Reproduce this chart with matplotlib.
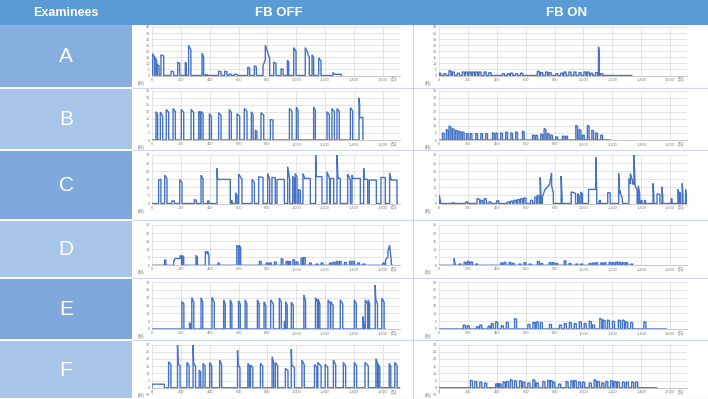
import matplotlib
matplotlib.use('Agg')
import matplotlib.pyplot as plt
from matplotlib.patches import Rectangle

plt.rcParams['font.family'] = ['Liberation Sans', 'DejaVu Sans']

# pulses: (start s, end s, height at start, height at end) - force in N
A_off = [(5, 18, 18, 15), (20, 33, 15, 12), (36, 49, 9, 8), (62, 81, 17, 16), (132, 150, 3.6, 3),
         (178, 192, 11, 10), (231, 238, 11, 10), (254, 270, 25, 21), (347, 358, 18.5, 15), (370, 381, 0.6, 0.5),
         (462, 479, 3.6, 3), (504, 520, 3.6, 3), (534, 550, 1, 1), (571, 590, 1, 1), (664, 677, 7, 6),
         (710, 724, 8, 7), (770, 786, 8, 13), (786, 800, 25, 20), (800, 816, 20, 14), (844, 860, 11, 10),
         (895, 909, 5.5, 5), (939, 948, 12.4, 11), (983, 999, 23, 20), (1063, 1080, 23, 19), (1080, 1091, 18, 15),
         (1110, 1121, 17, 15), (1156, 1172, 14.6, 12), (1255, 1267, 2.5, 1), (1267, 1313, 1, 1)]
A_on = [(0, 10, 2), (32, 46, 1.5), (67, 81, 4), (90, 104, 3), (125, 139, 2), (159, 173, 3), (183, 197, 3),
        (206, 220, 3), (229, 243, 3), (252, 266, 3), (275, 289, 3), (310, 324, 3), (344, 358, 2.5), (437, 451, 1.5),
        (472, 486, 1.5), (495, 509, 2), (529, 543, 1.5), (564, 578, 2), (680, 694, 3.5), (703, 717, 2.5),
        (737, 751, 3), (761, 775, 2.5), (807, 821, 1.5), (842, 856, 2), (865, 879, 3), (899, 913, 3), (934, 948, 3),
        (969, 983, 2.5), (1003, 1017, 3), (1026, 1040, 3), (1050, 1064, 2), (1084, 1098, 2.5), (1104, 1110, 23.7, 20),
        (1119, 1133, 1.5)]
B_off = [(28, 39, 20), (58, 74, 19.7, 17), (99, 116, 21.6), (146, 162, 22.3), (203, 220, 21.6), (271, 289, 21.6),
         (324, 335, 20.4), (340, 354, 20.4), (398, 412, 18.6), (462, 479, 19.3), (536, 550, 21.6), (590, 608, 18.6),
         (640, 659, 22.3), (689, 701, 20), (717, 728, 7, 6), (756, 775, 19.3), (821, 839, 14.6, 14), (953, 971, 22.3),
         (1001, 1013, 23.3), (1121, 1133, 23.3), (1214, 1230, 20), (1248, 1265, 22.3), (1283, 1299, 22.3),
         (1376, 1392, 22.8), (1436, 1440, 29.8, 25), (1440, 1463, 15.7, 16)]
B_on = [(22, 34, 5.1), (49, 61, 7.5), (68, 80, 10), (91, 103, 8.2), (114, 126, 7), (137, 149, 6.3), (160, 172, 5.8),
        (188, 200, 4.7), (214, 226, 4.7), (253, 265, 4.7), (288, 300, 4.7), (322, 334, 4.7), (369, 381, 5.1),
        (392, 404, 5.1), (426, 438, 5.1), (461, 473, 5.8), (496, 508, 5.1), (530, 542, 5.8), (577, 589, 6.3),
        (646, 658, 3.5), (669, 681, 3.5), (704, 716, 4.2), (727, 739, 8.2), (750, 762, 4.7), (773, 785, 3.5),
        (808, 820, 2.3), (854, 866, 2.8), (877, 889, 2.8), (947, 959, 10.5), (970, 982, 7.5), (993, 1005, 3.5),
        (1027, 1039, 10.5), (1058, 1070, 7), (1085, 1097, 5.1), (1120, 1132, 3.5)]
C_off = [(46, 62, 14.5, 15), (88, 104, 17.6, 15), (139, 155, 1.7, 1.5), (192, 208, 14.9, 13), (294, 307, 2.5, 2),
         (340, 354, 17.6, 15), (386, 395, 1.7, 1.5), (451, 455, 21.7, 15), (455, 543, 14.9, 14.9), (550, 556, 2, 1.5),
         (580, 590, 6.6, 5), (601, 624, 18.2, 15), (694, 710, 14.9, 13), (740, 770, 16.6, 16), (802, 816, 18.6, 15),
         (832, 855, 16.1, 16), (867, 918, 14.9, 14.9), (941, 955, 22.8, 15), (976, 987, 17, 15), (994, 1006, 18.6, 16),
         (1017, 1029, 8.7, 8), (1047, 1060, 18.6, 15.5), (1060, 1098, 15.5, 15.5), (1135, 1140, 30, 16.6),
         (1140, 1179, 16.6, 16.6), (1214, 1232, 19.7, 15), (1237, 1260, 15.5, 15.5), (1283, 1290, 30, 15.5),
         (1290, 1306, 15.5, 15.5), (1357, 1376, 18.2, 14.5), (1387, 1395, 17.6, 15.5), (1395, 1445, 15.5, 15.5),
         (1468, 1475, 21.7, 14.9), (1475, 1496, 14.9, 14.9), (1507, 1556, 14.5, 14.5), (1588, 1618, 16.1, 16.1),
         (1648, 1658, 19, 15), (1658, 1699, 14.5, 14.5)]
C_on = [(0, 9, 5.2, 1), (90, 104, 0.4), (183, 197, 1), (262, 280, 3.1, 2.5), (287, 300, 2), (312, 326, 3.1),
        (344, 358, 1), (398, 412, 1.7), (472, 486, 1), (495, 509, 1.5), (518, 532, 2), (541, 555, 2.5),
        (564, 578, 3.1), (587, 601, 3.5), (633, 647, 2), (663, 677, 4.1), (680, 692, 5.2), (700, 706, 16.1, 3),
        (715, 730, 4, 8), (730, 763, 8.3, 11.4), (763, 779, 11.4, 19), (779, 791, 11, 6.2), (845, 852, 17, 3),
        (915, 945, 7.2, 6.2), (960, 970, 6.2, 5), (982, 992, 7.2, 6), (1035, 1085, 8.7, 8.7), (1085, 1092, 28.6, 8),
        (1110, 1118, 2), (1168, 1185, 6.6, 6.6), (1244, 1250, 18.6, 6), (1250, 1270, 8.3, 3),
        (1315, 1325, 15.5, 12), (1325, 1340, 18.6, 14), (1340, 1350, 12, 12), (1350, 1358, 30, 11),
        (1358, 1372, 11, 8.3), (1380, 1390, 11, 6), (1400, 1406, 2), (1424, 1430, 2), (1482, 1488, 12.4, 5),
        (1510, 1530, 5.8, 5.8), (1545, 1550, 10.3, 4), (1608, 1614, 3.1), (1655, 1662, 8.7, 5), (1665, 1672, 7.2),
        (1685, 1690, 12.4, 5), (1708, 1714, 8.7, 3)]
D_off = [(88, 96, 3.5, 3), (150, 160, 2.5, 4.2), (160, 195, 4.2, 4.2), (195, 205, 6.2, 5), (210, 220, 6.2, 5),
         (305, 315, 6.2, 5), (370, 385, 8.7, 7), (385, 395, 8.7, 6), (458, 466, 1.5), (588, 600, 12.5, 11),
         (603, 615, 12.5, 11), (745, 757, 2.5), (792, 804, 1.5), (815, 827, 1.5), (849, 861, 2.1), (896, 908, 4.2),
         (930, 942, 2.5), (950, 960, 2.5), (977, 989, 3.5), (1000, 1012, 2.1), (1034, 1046, 4.6), (1051, 1063, 5),
         (1092, 1104, 1.5), (1138, 1150, 0.8), (1173, 1185, 1.5), (1231, 1243, 1.5), (1254, 1266, 1.9),
         (1277, 1289, 2.5), (1300, 1312, 2.5), (1335, 1347, 1.9), (1370, 1382, 2.5), (1393, 1405, 2.5),
         (1427, 1439, 1.5), (1462, 1474, 0.8), (1601, 1613, 1.5), (1620, 1636, 3.5, 5), (1636, 1648, 8.7, 12.5),
         (1648, 1660, 12.5, 2)]
D_on = [(103, 109, 4.2, 1), (137, 149, 0.8), (172, 184, 1.9), (195, 207, 2.5), (218, 230, 2.1), (253, 265, 0.8),
        (426, 438, 1.5), (449, 461, 1.9), (484, 496, 1.9), (507, 519, 1.2), (554, 566, 0.8), (588, 600, 1.7),
        (623, 635, 0.8), (681, 693, 2.5), (704, 716, 1.2), (762, 774, 1.7), (785, 797, 1.7), (808, 820, 1.2),
        (866, 878, 2.9), (900, 912, 1.2), (947, 959, 0.8), (981, 993, 0.8), (1039, 1051, 1.2), (1062, 1074, 1.5),
        (1085, 1097, 1.7), (1120, 1132, 1.5), (1143, 1155, 1.7), (1178, 1190, 1.9), (1201, 1213, 1.7),
        (1224, 1236, 2.1), (1247, 1259, 1.9), (1270, 1282, 1.7), (1293, 1305, 1.7), (1328, 1340, 0.8)]
E_off = [(207, 221, 17.5, 16), (260, 266, 4, 3), (276, 290, 20, 17), (340, 352, 20, 17), (416, 432, 20.3, 17),
         (497, 508, 18.6, 16), (543, 554, 18.6, 16), (600, 612, 18, 16), (646, 658, 18.6, 16), (731, 743, 18.6, 16),
         (777, 789, 17.5, 15), (823, 842, 18.6, 16), (883, 897, 19.7, 17), (918, 924, 4.7, 4), (927, 938, 17.5, 15),
         (966, 980, 17.1, 15), (1053, 1065, 21.8, 18), (1134, 1148, 20, 17), (1152, 1164, 19.2, 16),
         (1221, 1237, 18.6, 16), (1240, 1256, 17.5, 15), (1306, 1323, 18.6, 16), (1403, 1417, 18.6, 16),
         (1462, 1470, 7.9, 2), (1479, 1495, 18.6, 16), (1499, 1509, 18.6, 16), (1548, 1552, 28, 18),
         (1552, 1564, 18.6, 16), (1594, 1610, 19.7, 17)]
E_on = [(166, 180, 2.6), (193, 207, 2.1), (258, 272, 1.5), (281, 295, 2.6), (338, 352, 1.9), (361, 375, 3.6),
        (391, 405, 4.7), (430, 444, 2.1), (465, 479, 4.3), (522, 536, 6.8), (614, 628, 3), (649, 663, 4.3),
        (672, 686, 4.7), (701, 715, 4.3), (764, 778, 3), (833, 847, 2.6), (867, 881, 3.6), (902, 916, 4.3),
        (936, 950, 3.6), (971, 985, 4.7), (1005, 1019, 3.6), (1040, 1054, 5.1), (1063, 1077, 2.6), (1113, 1127, 6.8),
        (1136, 1150, 5.8), (1166, 1180, 5.8), (1201, 1215, 5.1), (1242, 1256, 5.8), (1270, 1284, 5.8),
        (1293, 1307, 4.7), (1327, 1341, 4.3), (1419, 1433, 4.7)]
F_off = [(0, 85, 2.5, 2.5), (115, 131, 18, 16), (177, 181, 30, 17), (181, 195, 16.9, 15), (242, 258, 17.6, 15),
         (285, 289, 29.6, 17), (289, 302, 16.9, 15), (327, 338, 12.2, 11), (354, 368, 16.9, 15), (400, 414, 17.6, 15),
         (469, 483, 19.2, 16), (593, 597, 26.1, 16), (597, 610, 15.7, 14), (665, 676, 16.9, 15), (683, 699, 15.7, 14),
         (752, 768, 16.9, 15), (833, 844, 21.5, 17), (856, 872, 17.6, 15), (925, 943, 13.4, 12), (966, 970, 26.8, 16),
         (970, 988, 15.7, 14), (1040, 1056, 19.2, 16), (1127, 1143, 16.2, 14), (1150, 1173, 17.6, 15),
         (1201, 1219, 16.2, 14), (1258, 1274, 19.2, 16), (1327, 1343, 17.6, 15), (1403, 1419, 17.6, 15),
         (1477, 1500, 17.6, 15), (1553, 1564, 20.3, 17), (1569, 1580, 16.4, 14), (1645, 1656, 16.9, 15),
         (1684, 1700, 17.6, 15)]
F_on = [(216, 230, 5.2), (246, 260, 4.5), (281, 295, 4.1), (315, 329, 3.4), (391, 405, 2.7), (402, 416, 2.7),
        (417, 428, 2.7), (442, 456, 4.1), (465, 479, 4.5), (492, 506, 5.7), (522, 536, 5), (557, 571, 5),
        (580, 594, 4.1), (614, 628, 3.4), (649, 663, 5.7), (672, 686, 3.4), (718, 732, 4.5), (752, 766, 5.2),
        (770, 784, 5), (787, 801, 4.1), (828, 842, 2.7), (879, 893, 4.5), (913, 927, 5), (936, 950, 5.2),
        (966, 980, 4.1), (994, 1008, 4.1), (1040, 1054, 3.4), (1074, 1088, 5.7), (1097, 1111, 4.5),
        (1127, 1141, 3.4), (1155, 1169, 4.5), (1189, 1203, 5), (1212, 1226, 4.5), (1235, 1249, 4.1),
        (1270, 1284, 4.1), (1297, 1311, 4.1), (1334, 1348, 4.1), (1362, 1376, 4.1)]

examinees = ['A', 'B', 'C', 'D', 'E', 'F']
off_data = [A_off, B_off, C_off, D_off, E_off, F_off]
on_data = [A_on, B_on, C_on, D_on, E_on, F_on]
off_end = [1313, 1463, 1700, 1670, 1615, 1718]
on_end = [1335, 1185, 1722, 1345, 1576, 1507]
y_ranges = [(0, 40), (0, 35), (0, 30), (0, 25), (0, 30), (-5, 30)]
x_ticks = [0, 200, 400, 600, 800, 1000, 1200, 1400, 1600]
x_ticklabels = ['0', '200', '400', '600', '800', '1,000', '1,200', '1,400', '1,600']

# layout (pixels)
W, H = 708, 399
row_top = [25, 89, 151, 221, 279, 341]
row_bot = [88, 150, 220, 278, 340, 399]
plot_top = [27, 90.5, 155, 225, 282, 344.5]
plot_bot = [75.5, 140, 203.5, 265.3, 329, 395]
cell_colors = ['#86AEDF', '#A7C4E9', '#7FA8DC', '#A8C5EA', '#7FA8DC', '#A8C5EA']
line_color = '#4472C4'


def build(pulses, end):
    t = [0]; v = [0]
    prev = None
    for p in pulses:
        t0, t1, h0 = p[0], p[1], p[2]
        h1 = p[3] if len(p) > 3 else h0 * 0.9
        if prev is not None and t0 == prev:
            t.pop(); v.pop()   # joined pulses: no drop to zero
        else:
            t.append(t0); v.append(0)
        t += [t0, t1]; v += [h0, h1]
        t.append(t1); v.append(0)
        prev = t1
    if end > t[-1]:
        t.append(end); v.append(0)
    return t, v


def px_axes(fig, x0, y0, x1, y1):
    return fig.add_axes([x0 / W, 1 - y1 / H, (x1 - x0) / W, (y1 - y0) / H])


fig = plt.figure(figsize=(7.08, 3.99), dpi=100)
bg = px_axes(fig, 0, 0, W, H)
bg.set_xlim(0, W); bg.set_ylim(H, 0); bg.axis('off')

# header
bg.add_patch(Rectangle((0, 0), W, 24.5, color='#5B9BD5', lw=0))
bg.text(66, 12.5, 'Examinees', color='white', fontsize=9, fontweight='bold', ha='center', va='center')
bg.text(279, 12.5, 'FB OFF', color='white', fontsize=9.5, fontweight='bold', ha='center', va='center')
bg.text(567, 12.5, 'FB ON', color='white', fontsize=9.5, fontweight='bold', ha='center', va='center')

for i, name in enumerate(examinees):
    bg.add_patch(Rectangle((0, row_top[i]), 131.5, row_bot[i] - row_top[i] - 1, color=cell_colors[i], lw=0))
    bg.text(66, (row_top[i] + row_bot[i]) / 2, name, color='white', fontsize=15, ha='center', va='center')
    bg.plot([133, W], [row_bot[i] - 0.5, row_bot[i] - 0.5], color='#CAD8EC', lw=0.8)
bg.plot([413, 413], [25, H], color='#CAD8EC', lw=0.8)

cols = [(152, off_data, off_end), (439.3, on_data, on_end)]
for i in range(6):
    ymin, ymax = y_ranges[i]
    for x0, data, ends in cols:
        ax = px_axes(fig, x0, plot_top[i], x0 + 248, plot_bot[i])
        t, v = build(data[i], ends[i])
        ax.plot(t, v, color=line_color, lw=1.0, solid_joinstyle='miter')
        ax.set_xlim(0, 1720)
        ax.set_ylim(ymin, ymax)
        ax.set_xticks(x_ticks)
        ax.set_xticklabels(x_ticklabels)
        ax.set_yticks(list(range(ymin, ymax + 1, 5)))
        ax.grid(True, color='#D9D9D9', lw=0.5)
        ax.set_axisbelow(True)
        for s in ['top', 'right', 'left']:
            ax.spines[s].set_visible(False)
        ax.spines['bottom'].set_position(('data', 0))
        ax.spines['bottom'].set_color('#BFBFBF')
        ax.spines['bottom'].set_linewidth(0.6)
        ax.tick_params(length=0, labelsize=2.8, labelcolor='#7F7F7F', pad=1.5)
        ax.patch.set_alpha(0)
        y0px = plot_bot[i] - (0 - ymin) / (ymax - ymin) * (plot_bot[i] - plot_top[i])
        bg.text(x0 + 245, y0px + 4.5, '(S)', fontsize=3.5, color='#7F7F7F', ha='right', va='center')
        bg.text(x0 - 11, y0px + 7.5, '(N)', fontsize=3.5, color='#7F7F7F', ha='center', va='center')

fig.savefig('out.png', dpi=100)
